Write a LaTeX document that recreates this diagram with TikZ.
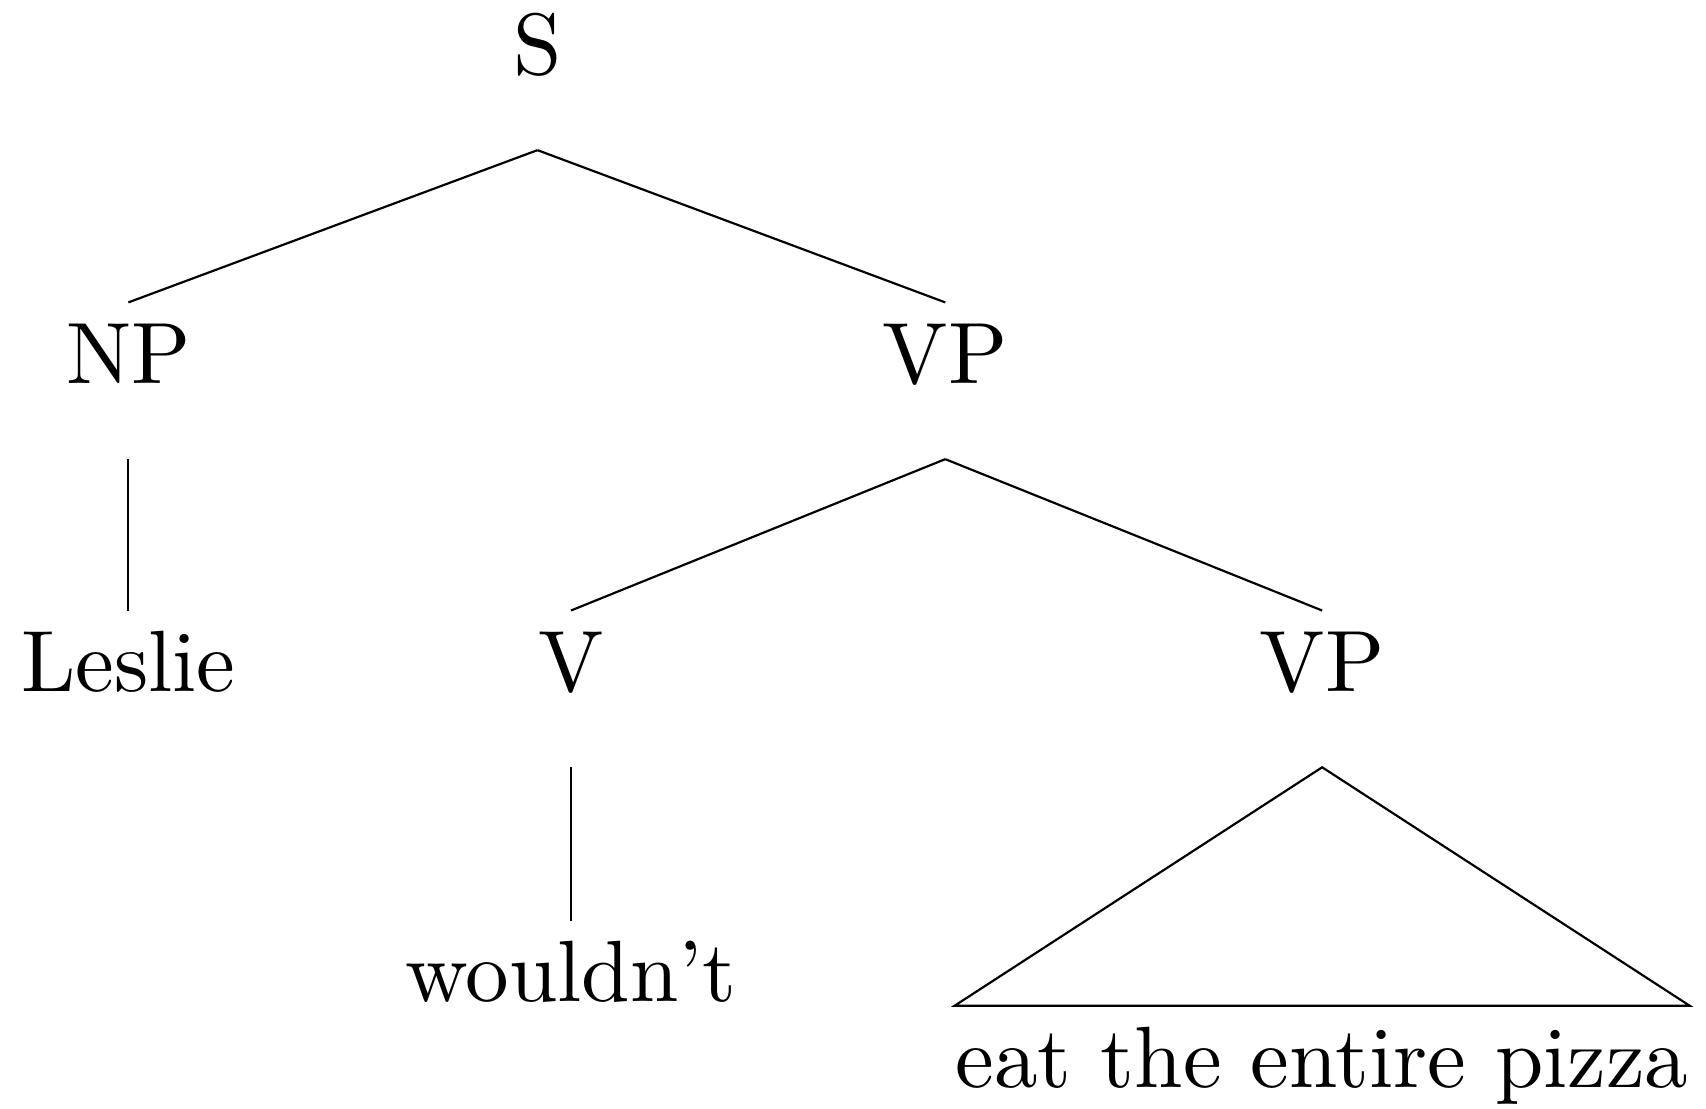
\documentclass[tikz,border=0pt]{standalone}
\usepackage{tikz}

\begin{document}
\begin{tikzpicture}[x=1pt,y=1pt,line width=0.25pt,cat/.style={anchor=base,inner sep=3.33pt,text height=5.9pt,text depth=5.2pt},roof/.style={cat,inner xsep=0pt}]
\useasboundingbox (0,0) rectangle (196,-127.4);
\node[cat] (s) at (61.75,-8.6) {S};
\node[cat] (np) at (14.75,-44.1) {NP};
\node[cat] (vp) at (108.6,-44.1) {VP};
\node[cat] (leslie) at (14.75,-79.5) {Leslie};
\node[cat] (v) at (65.6,-79.5) {V};
\node[cat] (vpb) at (151.9,-79.5) {VP};
\node[cat,text height=5.8pt] (wouldnt) at (65.6,-115.1) {wouldn't};
\node[roof] (pizza) at (151.9,-124.9) {eat the entire pizza};
\foreach \a/\b in %
{s/np,s/vp,np/leslie,vp/v,vp/vpb,v/wouldnt} {
   \draw (\a.south) -- (\b.north);
}
\draw (vpb.south) -- (pizza.north west) -- (pizza.north east) -- cycle;
\end{tikzpicture}
\end{document}
